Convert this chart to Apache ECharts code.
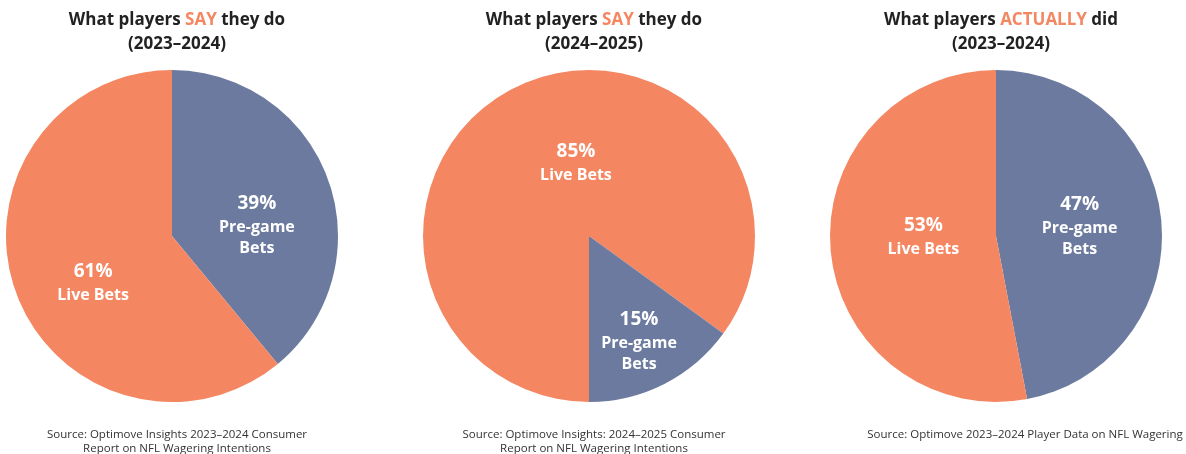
<!DOCTYPE html>
<html><head><meta charset="utf-8">
<script src="https://cdn.jsdelivr.net/npm/echarts@6/dist/echarts.min.js"></script>
<style>html,body{margin:0;padding:0;background:#fff}#c{width:1186px;height:454px}</style>
</head><body><div id="c"></div>
<script>
const names = ['Pre-game Bets', 'Live Bets'];
const pie1 = [39, 61];
const pie2 = [15, 85];
const pie3 = [47, 53];
const titlesPre = ['What players ', 'What players ', 'What players '];
const titlesKey = ['SAY', 'SAY', 'ACTUALLY'];
const titlesPost = [' they do', ' they do', ' did'];
const titlesYear = ['(2023–2024)', '(2024–2025)', '(2023–2024)'];
const sources = [
  'Source: Optimove Insights 2023–2024 Consumer\nReport on NFL Wagering Intentions',
  'Source: Optimove Insights: 2024–2025 Consumer\nReport on NFL Wagering Intentions',
  'Source: Optimove 2023–2024 Player Data on NFL Wagering'
];

const ORANGE = '#F48762', BLUE = '#6B7A9E';
const FONT = '"Open Sans", sans-serif';
const centersX = [172, 589, 996];
const sourceX = [172, 589, 1020];

const chart = echarts.init(document.getElementById('c'));
const titles = [];
for (let i = 0; i < 3; i++) {
  titles.push({
    text: '{a|' + titlesPre[i] + '}{o|' + titlesKey[i] + '}{a|' + titlesPost[i] + '}\n{a|' + titlesYear[i] + '}',
    left: centersX[i], top: 3, textAlign: 'center',
    textStyle: {
      rich: {
        a: {fontFamily: FONT, fontWeight: 'bold', fontSize: 17, color: '#222', lineHeight: 24},
        o: {fontFamily: FONT, fontWeight: 'bold', fontSize: 17, color: ORANGE, lineHeight: 24}
      }
    }
  });
  titles.push({
    text: sources[i], left: sourceX[i], top: 423, textAlign: 'center',
    textStyle: {fontFamily: FONT, fontWeight: 'normal', fontSize: 11.5, color: '#333', lineHeight: 14}
  });
}

function labelFmt(p) {
  const parts = p.name === 'Live Bets' ? ['Live Bets'] : ['Pre-game', 'Bets'];
  return '{p|' + p.value + '%}\n' + parts.map(s => '{n|' + s + '}').join('\n');
}
const labelRich = {
  p: {fontFamily: FONT, fontWeight: 'bold', fontSize: 19, color: '#fff', lineHeight: 26},
  n: {fontFamily: FONT, fontWeight: 'bold', fontSize: 16, color: '#fff', lineHeight: 21}
};

function makePie(vals, cx, startAngle, offsets, order) {
  const data = order.map(k => ({name: names[k], value: vals[k], itemStyle: {color: k === 0 ? BLUE : ORANGE}}));
  return {
    type: 'pie', center: [cx, 236], radius: [0, 166], startAngle: startAngle, clockwise: true,
    silent: true, animation: false,
    label: {show: true, position: 'inside', formatter: labelFmt, rich: labelRich, align: 'center'},
    labelLine: {show: false},
    labelLayout: function (params) { const o = offsets[params.dataIndex]; return {dx: o[0], dy: o[1]}; },
    data: data
  };
}

chart.setOption({
  animation: false,
  title: titles,
  series: [
    makePie(pie1, centersX[0], 90, [[4, 18], [2, 17]], [0, 1]),
    makePie(pie2, centersX[1], -90, [[26, 3], [11, 28]], [1, 0]),
    makePie(pie3, centersX[2], 90, [[-2, -2], [13, -8]], [0, 1])
  ]
});
</script></body></html>
